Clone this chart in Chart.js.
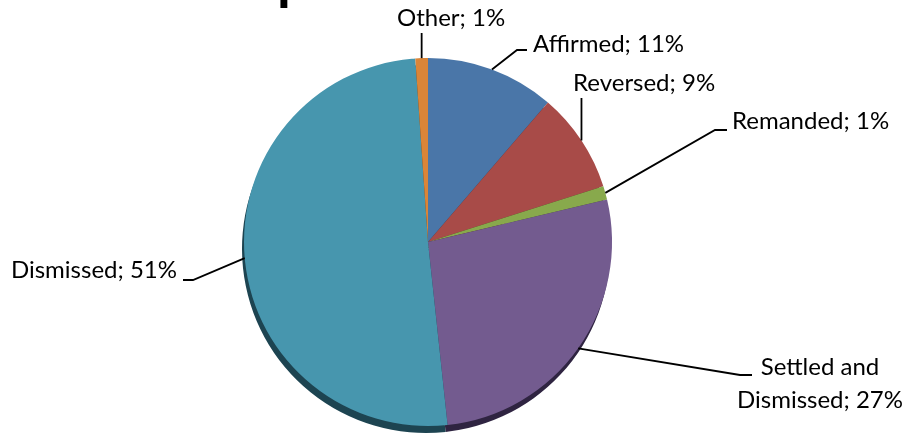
<!DOCTYPE html>
<html>
<head>
<meta charset="utf-8">
<script src="https://cdn.jsdelivr.net/npm/chart.js@4.4.0/dist/chart.umd.min.js"></script>
<style>
  html, body { margin: 0; padding: 0; background: #fff; }
  #wrap { width: 907px; height: 436px; }
</style>
</head>
<body>
<div id="wrap"><canvas id="pie" width="907" height="436"></canvas></div>
<script>
// data (percent of cases)
const categories = ['Affirmed', 'Reversed', 'Remanded', ['Settled and', 'Dismissed'], 'Dismissed', 'Other'];
const shares = [11.3, 8.8, 1.2, 27.0, 50.6, 1.1];
const sliceColors = ['#4A76A8', '#A84B48', '#88A94C', '#735B8F', '#4796AE', '#DA8538'];
const shadowColors = ['#213852', '#50231F', '#404F23', '#2F2441', '#1D4451', '#633B19'];

// label placement: leader elbow, short tail end, text anchor (baseline), alignment
// elbow x of null = go straight up from the slice edge
const labelSpots = [
  { elbow: [517, 50], tail: [527, 50], text: [533, 52], align: 'left' },
  { elbow: [null, 98], text: [573, 91], align: 'left' },
  { elbow: [715, 130], tail: [727, 130], text: [732, 129], align: 'left' },
  { elbow: [740, 375], tail: [752, 375], text: [820, 375], align: 'center', lineGap: 33 },
  { elbow: [193, 280], tail: [183, 280], text: [177, 278], align: 'right' },
  { elbow: [null, 33], text: [397, 26], align: 'left' }
];

const labelFont = '24px Lato';

const total = shares.reduce((a, b) => a + b, 0);

const pieDressing = {
  id: 'pieDressing',
  beforeDatasetsDraw(chart) {
    // dark rim under the pie, like the 3D shadow in the original
    const ctx = chart.ctx;
    const arcs = chart.getDatasetMeta(0).data;
    ctx.save();
    arcs.forEach((arc, i) => {
      const p = arc.getProps(['x', 'y', 'startAngle', 'endAngle', 'outerRadius'], true);
      ctx.beginPath();
      ctx.moveTo(p.x - 2, p.y + 7);
      ctx.arc(p.x - 2, p.y + 7, p.outerRadius, p.startAngle, p.endAngle);
      ctx.closePath();
      ctx.fillStyle = shadowColors[i];
      ctx.fill();
    });
    ctx.restore();
  },
  afterDatasetsDraw(chart) {
    const ctx = chart.ctx;
    const arcs = chart.getDatasetMeta(0).data;
    ctx.save();

    // clipped title, only a descender shows at the top edge
    ctx.font = 'bold 56px Lato';
    ctx.fillStyle = '#000';
    ctx.textAlign = 'left';
    ctx.textBaseline = 'alphabetic';
    const m = ctx.measureText('p');
    ctx.fillText('p', 280 + m.actualBoundingBoxLeft, 8 - m.actualBoundingBoxDescent);

    ctx.font = labelFont;
    ctx.strokeStyle = '#000';
    ctx.lineWidth = 1.8;
    arcs.forEach((arc, i) => {
      const p = arc.getProps(['x', 'y', 'startAngle', 'endAngle', 'outerRadius'], true);
      const mid = (p.startAngle + p.endAngle) / 2;
      const ex = p.x + p.outerRadius * Math.cos(mid);
      const ey = p.y + p.outerRadius * Math.sin(mid);
      const spot = labelSpots[i];

      ctx.beginPath();
      ctx.moveTo(ex, ey);
      ctx.lineTo(spot.elbow[0] === null ? ex : spot.elbow[0], spot.elbow[1]);
      if (spot.tail) ctx.lineTo(spot.tail[0], spot.tail[1]);
      ctx.stroke();

      const pct = Math.round(shares[i] / total * 100);
      const lines = Array.isArray(categories[i]) ? categories[i].slice() : [categories[i]];
      lines[lines.length - 1] += '; ' + pct + '%';
      ctx.textAlign = spot.align;
      lines.forEach((line, k) => {
        ctx.fillText(line, spot.text[0], spot.text[1] + k * (spot.lineGap || 0));
      });
    });
    ctx.restore();
  }
};

new Chart(document.getElementById('pie'), {
  type: 'pie',
  data: {
    labels: categories,
    datasets: [{
      data: shares,
      backgroundColor: sliceColors,
      borderWidth: 0
    }]
  },
  options: {
    responsive: false,
    animation: false,
    layout: { padding: { left: 244, right: 295, top: 58, bottom: 10 } },
    plugins: {
      legend: { display: false },
      tooltip: { enabled: false }
    }
  },
  plugins: [pieDressing]
});
</script>
</body>
</html>
